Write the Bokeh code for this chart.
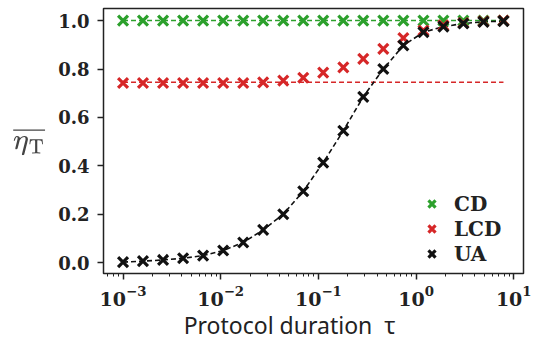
from bokeh.plotting import figure
from bokeh.models import (ColumnDataSource, FixedTicker, PrintfTickFormatter,
                          Legend, LegendItem, Range1d)
from bokeh.embed import file_html
from bokeh.resources import INLINE

# ---- data ----
tau = [0.001, 0.0016, 0.00257, 0.00412, 0.0066, 0.0106, 0.017, 0.0272,
       0.0437, 0.070, 0.112, 0.18, 0.288, 0.462, 0.741, 1.19, 1.905,
       3.05, 4.9, 7.85]
eta_cd = [1.0, 1.0, 1.0, 1.0, 1.0, 1.0, 1.0, 1.0, 1.0, 1.0, 1.0, 1.0,
          1.0, 1.0, 1.0, 1.0, 1.0, 1.0, 1.0, 1.0]
eta_lcd = [0.742, 0.742, 0.742, 0.742, 0.742, 0.742, 0.742, 0.745,
           0.752, 0.764, 0.785, 0.807, 0.842, 0.883, 0.928, 0.959,
           0.980, 0.990, 0.997, 1.0]
eta_ua = [0.002, 0.006, 0.011, 0.018, 0.029, 0.050, 0.083, 0.135, 0.200,
          0.295, 0.413, 0.545, 0.685, 0.800, 0.897, 0.952, 0.975, 0.988,
          0.995, 0.998]
lcd_limit = 0.745
labels = ["CD", "LCD", "UA"]
y_ticks = [0.0, 0.2, 0.4, 0.6, 0.8, 1.0]
x_ticks = [1e-3, 1e-2, 1e-1, 1e0, 1e1]

GREEN = "#2ca02c"
RED = "#d62728"
BLACK = "#111111"

p = figure(width=532, height=343, x_axis_type="log",
           x_range=Range1d(10 ** -3.2, 10 ** 1.1),
           y_range=Range1d(-0.045, 1.05),
           output_backend="svg", toolbar_location=None,
           min_border_left=103, min_border_right=9,
           min_border_top=8, min_border_bottom=70)

p.xgrid.visible = False
p.ygrid.visible = False
p.outline_line_color = "#222222"
p.outline_line_width = 1.5

src = ColumnDataSource(dict(tau=tau, cd=eta_cd, lcd=eta_lcd, ua=eta_ua,
                            lim=[lcd_limit] * len(tau)))

# reference lines
p.line("tau", "cd", source=src, line_color=GREEN, line_width=1.5,
       line_dash="5 3")
p.line("tau", "lim", source=src, line_color=RED, line_width=1.5,
       line_dash="5 3")
p.line("tau", "ua", source=src, line_color=BLACK, line_width=1.6,
       line_dash="5 3")

r_cd = p.scatter("tau", "cd", source=src, marker="x", size=14,
                 line_color=GREEN, line_width=3.2)
r_lcd = p.scatter("tau", "lcd", source=src, marker="x", size=14,
                  line_color=RED, line_width=3.2)
r_ua = p.scatter("tau", "ua", source=src, marker="x", size=14,
                 line_color=BLACK, line_width=3.2)

legend = Legend(items=[LegendItem(label=labels[0], renderers=[r_cd]),
                       LegendItem(label=labels[1], renderers=[r_lcd]),
                       LegendItem(label=labels[2], renderers=[r_ua])],
                location=(311, 2), border_line_alpha=0,
                background_fill_alpha=0.9,
                label_text_font="DejaVu Serif",
                label_text_font_style="bold",
                label_text_font_size="20px",
                label_text_color="#222222",
                label_height=21, glyph_height=25, glyph_width=25,
                spacing=-6, padding=5, margin=0, label_standoff=10)
p.add_layout(legend, "center")

# axes
p.yaxis.ticker = FixedTicker(ticks=y_ticks)
p.yaxis.formatter = PrintfTickFormatter(format="%.1f")
p.xaxis.ticker = FixedTicker(
    ticks=x_ticks,
    minor_ticks=[m * 10.0 ** e for e in range(-4, 2) for m in range(2, 10)])

for ax in (p.xaxis[0], p.yaxis[0]):
    ax.major_label_text_font = "DejaVu Serif"
    ax.major_label_text_font_style = "bold"
    ax.major_label_text_color = "#222222"
    ax.axis_line_color = None
    ax.major_tick_line_color = "#222222"
    ax.minor_tick_line_color = "#222222"
    ax.major_tick_line_width = 1.5
    ax.major_tick_out = 6
    ax.major_tick_in = 0
    ax.minor_tick_out = 3
    ax.minor_tick_in = 0

p.yaxis.major_label_text_font_size = "18px"
p.xaxis.major_label_text_font_size = "19px"
p.yaxis.minor_tick_line_color = None
p.yaxis.major_label_standoff = 8
p.xaxis.major_label_standoff = 6

p.xaxis.axis_label = "Protocol duration\u00a0\u00a0τ" + "\u00a0" * 8
p.xaxis.axis_label_text_font = "Noto Sans"
p.xaxis.axis_label_text_font_style = "normal"
p.xaxis.axis_label_text_font_size = "23px"
p.xaxis.axis_label_text_color = "#222222"
p.xaxis.axis_label_standoff = 0

p.yaxis.axis_label = r"$$\overline{\eta_{\mathrm{T}}}$$"
p.yaxis.axis_label_text_font_size = "24px"
p.yaxis.axis_label_orientation = "horizontal"
p.yaxis.axis_label_standoff = 10

open("out.html", "w").write(file_html(p, INLINE))
